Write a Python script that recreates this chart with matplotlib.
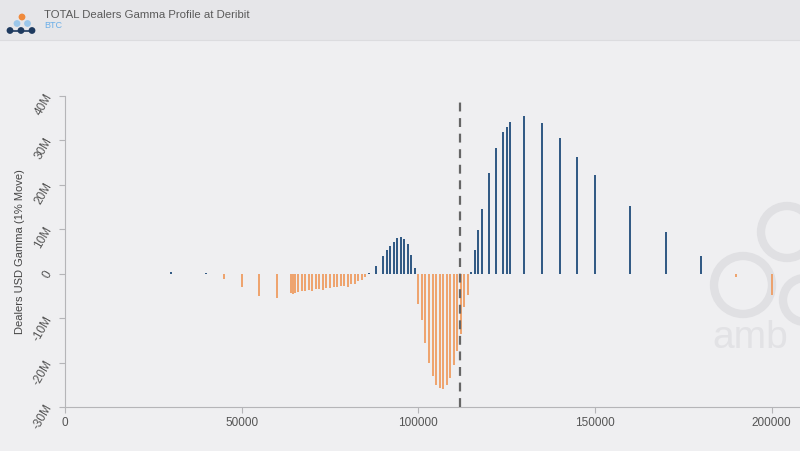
import numpy as np
import matplotlib.pyplot as plt
from matplotlib.patches import Circle, Rectangle
from matplotlib.ticker import FuncFormatter

plt.rcParams['font.family'] = ['Liberation Sans', 'DejaVu Sans']

# strikes and dealer gamma (USD, 1% move)
strikes = [30000, 40000, 45000, 50000, 55000, 60000,
           64000, 64500, 65000, 66000, 67000, 68000, 69000, 70000, 71000, 72000,
           73000, 74000, 75000, 76000, 77000, 78000, 79000, 80000, 81000, 82000,
           83000, 84000, 85000, 86000, 88000, 90000, 91000, 92000, 93000, 94000,
           95000, 96000, 97000, 98000, 99000,
           100000, 101000, 102000, 103000, 104000, 105000, 106000, 107000,
           108000, 109000, 110000, 111000, 112000, 113000, 114000,
           115000, 116000, 117000, 118000, 120000, 122000, 124000, 125000, 126000,
           130000, 135000, 140000, 145000, 150000, 160000, 170000, 180000,
           190000, 200000]
gamma_m = [0.3, 0.2, -1.3, -3.1, -5.0, -5.4,
           -4.4, -4.6, -4.3, -4.2, -3.9, -4.0, -3.7, -3.8, -3.5, -3.4,
           -3.6, -3.3, -3.2, -3.0, -3.1, -2.8, -2.7, -2.9, -2.3, -2.3,
           -1.6, -1.5, -0.8, 0.2, 1.8, 4.0, 5.4, 6.2, 7.2, 8.1,
           8.2, 7.8, 6.8, 4.3, 1.2,
           -6.8, -10.5, -15.5, -20.0, -23.0, -25.0, -25.8, -26.0,
           -25.0, -23.4, -20.5, -17.5, -13.5, -7.5, -4.7,
           0.3, 5.3, 9.9, 14.5, 22.7, 28.2, 31.8, 33.0, 34.1,
           35.6, 33.9, 30.5, 26.2, 22.3, 15.3, 9.3, 4.0,
           -0.7, -4.9]
spot = 111700

gamma = np.array(gamma_m) * 1e6
strikes = np.array(strikes)

bg = "#efeff1"
blue = "#1f4c7a"
orange = "#ee9c62"

fig = plt.figure(figsize=(8, 4.51), dpi=100, facecolor=bg)

# header strip
fig.add_artist(Rectangle((0, 1 - 40 / 451), 1, 40 / 451, transform=fig.transFigure,
                         facecolor="#e6e6e9", edgecolor="none"))
fig.add_artist(plt.Line2D([0, 1], [1 - 40 / 451] * 2, transform=fig.transFigure,
                          color="#dcdcdf", lw=0.8))
fig.text(44 / 800, 1 - 15 / 451, "TOTAL Dealers Gamma Profile at Deribit",
         fontsize=8.2, color="#5a5a5a", va="center")
fig.text(44 / 800, 1 - 25 / 451, "BTC", fontsize=6.5, color="#6aaee8", va="center")

# little logo
inch = fig.dpi_scale_trans
def px(x, y):
    return x / 100, (451 - y) / 100
fig.add_artist(plt.Line2D([0.10, 0.32], [(451 - 30.5) / 100] * 2, transform=inch,
                          color="#1e3a5f", lw=1.2))
for (x, y, r, c) in [(22, 17, 3.4, "#f08a3c"), (17, 23.5, 3.4, "#9cc7ea"),
                     (27.5, 23.5, 3.4, "#9cc7ea"), (10, 30.5, 3.4, "#1e3a5f"),
                     (21, 30.5, 3.4, "#1e3a5f"), (32, 30.5, 3.4, "#1e3a5f")]:
    fig.add_artist(Circle(px(x, y), r / 100, transform=inch, facecolor=c, edgecolor="none"))

# faint watermark
for (x, y, r) in [(787, 232, 26), (743, 285, 29), (805, 300, 22)]:
    fig.add_artist(Circle(px(x, y), r / 100, transform=inch, facecolor="none",
                          edgecolor="#e0e0e3", lw=6, zorder=0))
fig.text(712 / 800, 1 - 338 / 451, "amb", fontsize=28, color="#e2e2e5", va="center",
         zorder=0)

ax = fig.add_axes([65 / 800, 44 / 451, 1 - 65 / 800, (407 - 96) / 451])
ax.set_facecolor("none")

colors = [blue if g > 0 else orange for g in gamma]
ax.vlines(strikes, 0, gamma, colors=colors, lw=1.3, zorder=2)
ax.axvline(spot, color="#666666", lw=1.6, ls=(0, (4, 3)), zorder=3)

ax.set_xlim(0, 208000)
ax.set_ylim(-30e6, 40e6)
ax.set_xticks([0, 50000, 100000, 150000, 200000])
ax.set_yticks(np.arange(-30e6, 40e6 + 1, 10e6))
ax.yaxis.set_major_formatter(FuncFormatter(lambda v, p: "0" if v == 0 else f"{int(v / 1e6)}M"))

for s in ["top", "right"]:
    ax.spines[s].set_visible(False)
for s in ["left", "bottom"]:
    ax.spines[s].set_color("#b5b5b8")
    ax.spines[s].set_linewidth(0.8)

ax.tick_params(axis="both", colors="#b5b5b8", labelcolor="#555555", labelsize=8.5,
               length=4, width=0.8)
ax.tick_params(axis="y", labelrotation=60)
ax.set_ylabel("Dealers USD Gamma (1% Move)", fontsize=8, color="#444444", labelpad=4)

plt.savefig("out.png", dpi=100, facecolor=bg)
